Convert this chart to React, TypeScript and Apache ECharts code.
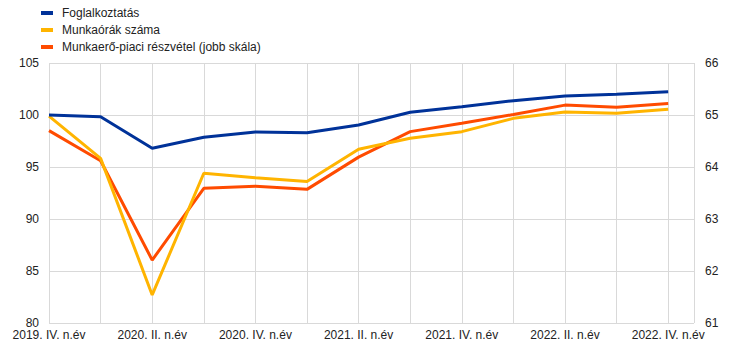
import React, { useEffect, useRef } from "react";
import * as echarts from "echarts";

const quarters = [
  "2019. IV. n.év",
  "2020. I. n.év",
  "2020. II. n.év",
  "2020. III. n.év",
  "2020. IV. n.év",
  "2021. I. n.év",
  "2021. II. n.év",
  "2021. III. n.év",
  "2021. IV. n.év",
  "2022. I. n.év",
  "2022. II. n.év",
  "2022. III. n.év",
  "2022. IV. n.év",
];

const employment = [100.0, 99.84, 96.8, 97.86, 98.37, 98.3, 99.04, 100.26, 100.8, 101.38, 101.83, 102.0, 102.24];
const hoursWorked = [99.9, 95.83, 82.7, 94.4, 93.97, 93.6, 96.7, 97.76, 98.4, 99.68, 100.29, 100.16, 100.55];
const participation = [64.7, 64.12, 62.21, 63.59, 63.63, 63.57, 64.19, 64.68, 64.84, 65.01, 65.19, 65.15, 65.22];

const seriesNames = ["Foglalkoztatás", "Munkaórák száma", "Munkaerő-piaci részvétel (jobb skála)"];
const colors = ["#003299", "#FFB400", "#FF4B00"];

const leftTicks = { min: 80, max: 105, interval: 5 };
const rightTicks = { min: 61, max: 66, interval: 1 };

const FONT = "'Liberation Sans', Arial, sans-serif";
const TEXT = "#222";
const GRID = "#d9d9d9";

export default function App() {
  const ref = useRef<HTMLDivElement>(null);
  useEffect(() => {
    if (!ref.current) return;
    const chart = echarts.init(ref.current, undefined, { renderer: "svg" });
    const toPairs = (arr: number[]) => arr.map((v, i) => [i, v]);
    chart.setOption({
      animation: false,
      textStyle: { fontFamily: FONT },
      legend: {
        orient: "vertical",
        left: 36,
        top: 1,
        itemWidth: 12,
        itemHeight: 4,
        itemGap: 3,
        icon: "rect",
        data: seriesNames,
        textStyle: { fontFamily: FONT, fontSize: 12, color: TEXT, lineHeight: 14, padding: [0, 0, 0, 4] },
      },
      grid: { left: 49, right: 50, top: 63, bottom: 29 },
      xAxis: {
        type: "value",
        min: 0,
        max: 12.5,
        interval: 1,
        axisLine: { show: false },
        axisTick: { show: false },
        splitLine: { show: true, lineStyle: { color: GRID, width: 1 } },
        axisLabel: {
          fontFamily: FONT,
          fontSize: 12,
          color: TEXT,
          margin: 6,
          formatter: (v: number) =>
            Number.isInteger(v) && v % 2 === 0 && quarters[v] ? quarters[v] : "",
        },
      },
      yAxis: [
        {
          type: "value",
          ...leftTicks,
          axisLine: { show: false },
          axisTick: { show: false },
          splitLine: { show: true, lineStyle: { color: GRID, width: 1 } },
          axisLabel: { fontFamily: FONT, fontSize: 12, color: TEXT, margin: 10 },
        },
        {
          type: "value",
          ...rightTicks,
          axisLine: { show: false },
          axisTick: { show: false },
          splitLine: { show: false },
          axisLabel: { fontFamily: FONT, fontSize: 12, color: TEXT, margin: 11 },
        },
      ],
      series: [
        { name: seriesNames[0], data: toPairs(employment), yAxisIndex: 0 },
        { name: seriesNames[1], data: toPairs(hoursWorked), yAxisIndex: 0 },
        { name: seriesNames[2], data: toPairs(participation), yAxisIndex: 1 },
      ].map((s, i) => ({
        ...s,
        type: "line",
        showSymbol: false,
        symbol: "none",
        color: colors[i],
        lineStyle: { color: colors[i], width: 3 },
        z: 10 - i,
      })),
    });
    return () => chart.dispose();
  }, []);
  return <div ref={ref} style={{ width: 744, height: 352, margin: -8 }} />;
}
